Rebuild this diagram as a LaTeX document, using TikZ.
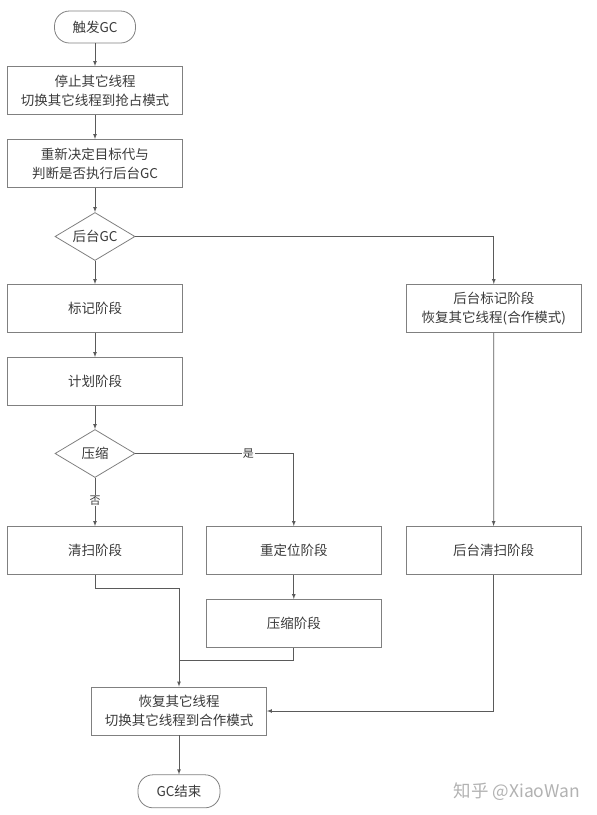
\documentclass[tikz,border=0pt]{standalone}
\usepackage{fontspec}
\newfontfamily\cjk{Noto Sans CJK SC}
\usetikzlibrary{arrows}
\usetikzlibrary{positioning}
\usetikzlibrary{shapes.geometric}
\tikzset{>=latex}
\definecolor{boxline}{HTML}{808080}
\definecolor{flowline}{HTML}{5A5A5A}
\definecolor{flowtext}{HTML}{3A3A3A}
\tikzset{
  every node/.style={font=\cjk\fontsize{13.5}{19}\selectfont, text=flowtext},
  stagebox/.style={draw=boxline, line width=0.8pt, minimum width=175pt, minimum height=48pt, align=center, inner sep=0pt},
  terminal/.style={draw=boxline, line width=0.8pt, rounded corners=15pt, minimum width=81pt, minimum height=32pt, inner sep=0pt},
  choice/.style={draw=boxline, line width=0.8pt, diamond, minimum width=80pt, minimum height=48pt, inner sep=0pt},
  flow/.style={draw=flowline, line width=0.75pt},
  branch/.style={fill=white, inner sep=1pt, font=\cjk\fontsize{11}{13}\selectfont}
}

\begin{document}
\begin{tikzpicture}[x=1pt, y=1pt, node distance=24.2pt]
    \useasboundingbox (0,0) rectangle (597,-815);
    \node [terminal] at (95,-27) (trigger) {触发GC};
    \node [stagebox, below=22.7pt of trigger] (suspend) {停止其它线程\\切换其它线程到抢占模式};
    \node [stagebox, below=of suspend] (decide) {重新决定目标代与\\判断是否执行后台GC};
    \node [choice, below=of decide, label=center:{后台GC}] (background) {};
    \node [stagebox, below=23.2pt of background] (mark) {标记阶段};
    \node [stagebox, below=of mark] (plan) {计划阶段};
    \node [choice, below=23.2pt of plan, label=center:{压缩}] (compact) {};
    \node [stagebox, below=48.2pt of compact] (sweep) {清扫阶段};
    \node [stagebox, right=23pt of sweep] (relocate) {重定位阶段};
    \node [stagebox, below=of relocate] (compress) {压缩阶段};
    \node [stagebox, right=223pt of mark] (bgmark) {后台标记阶段\\恢复其它线程(合作模式)};
    \node [stagebox, right=24pt of relocate] (bgsweep) {后台清扫阶段};
    \node [stagebox] at (179,-711) (resume) {恢复其它线程\\切换其它线程到合作模式};
    \node [terminal, minimum width=82pt, minimum height=33pt, below=39pt of resume] (finish) {GC结束};
    \node [text=black!30, font=\cjk\fontsize{17.5}{20}\selectfont] at (517,-792) (mark2) {知乎 @XiaoWan};

    \coordinate (join1) at (179,-588);
    \coordinate (join2) at (179,-660);

    \draw [flow, ->] (trigger)--(suspend);
    \draw [flow, ->] (suspend)--(decide);
    \draw [flow, ->] (decide)--(background);
    \draw [flow, ->] (background)--(mark);
    \draw [flow, ->] (mark)--(plan);
    \draw [flow, ->] (plan)--(compact);
    \draw [flow, ->] (compact)--(sweep)
        node [branch, pos=0.47] {否};
    \draw [flow, ->] (compact.east) -| (relocate.north)
        node [branch, pos=0.357] {是};
    \draw [flow, ->] (relocate)--(compress);
    \draw [flow, ->] (background.east) -| (bgmark.north);
    \draw [flow, ->] (bgmark)--(bgsweep);
    \draw [flow] (sweep.south) |- (join1);
    \draw [flow] (compress.south) |- (join2);
    \draw [flow, ->] (join1) -- (resume.north);
    \draw [flow, ->] (bgsweep.south) |- (resume.east);
    \draw [flow, ->] (resume)--(finish);
\end{tikzpicture}
\end{document}
